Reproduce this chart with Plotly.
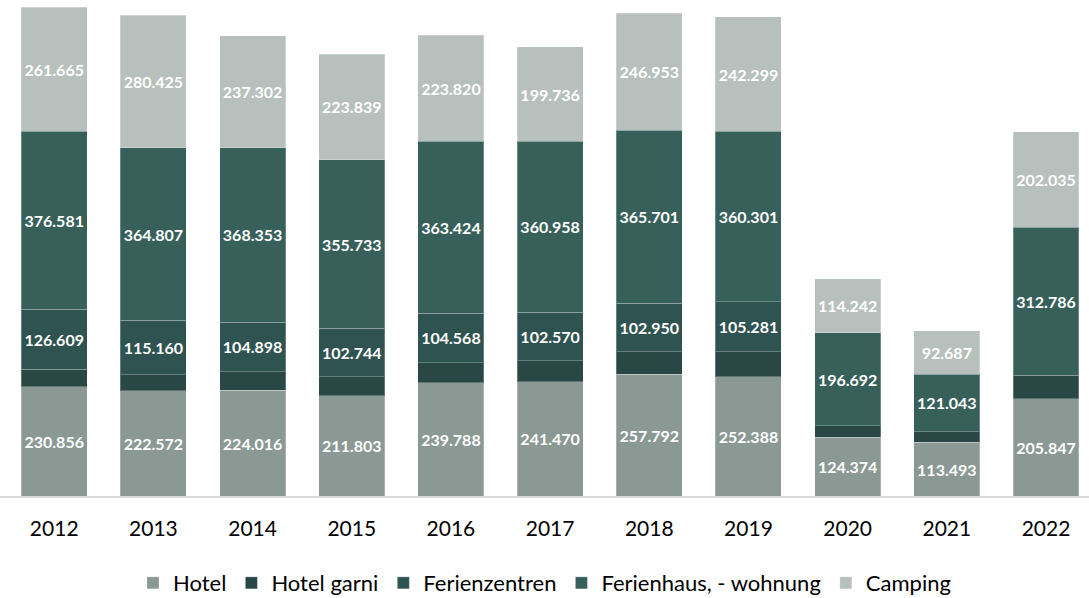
import plotly.graph_objects as go

years = ["2012", "2013", "2014", "2015", "2016", "2017", "2018", "2019", "2020", "2021", "2022"]
hotel = [230856, 222572, 224016, 211803, 239788, 241470, 257792, 252388, 124374, 113493, 205847]
hotel_garni = [37400, 33500, 38700, 40200, 42300, 44400, 47200, 52900, 23900, 22600, 49300]
ferienzentren = [126609, 115160, 104898, 102744, 104568, 102570, 102950, 105281, None, None, None]
ferienhaus = [376581, 364807, 368353, 355733, 363424, 360958, 365701, 360301, 196692, 121043, 312786]
camping = [261665, 280425, 237302, 223839, 223820, 199736, 246953, 242299, 114242, 92687, 202035]

series = [
    ("Hotel", hotel, "#8a9994", True),
    ("Hotel garni", hotel_garni, "#294745", False),
    ("Ferienzentren", ferienzentren, "#2f5350", True),
    ("Ferienhaus, - wohnung", ferienhaus, "#37605b", True),
    ("Camping", camping, "#b8c0bd", True),
]

FONT = "Lato"


def fmt(v):
    if v is None:
        return ""
    return f"{v:,}".replace(",", ".")


fig = go.Figure()
for name, vals, color, labeled in series:
    fig.add_trace(go.Bar(
        name=name,
        x=years,
        y=vals,
        marker=dict(color=color, line=dict(width=1, color="rgba(255,255,255,0.25)")),
        text=[fmt(v) for v in vals] if labeled else None,
        textposition="inside" if labeled else "none",
        insidetextanchor="middle",
        textangle=0,
        constraintext="none",
        textfont=dict(family=FONT, size=16, color="white", weight="bold"),
        hoverinfo="skip",
    ))

fig.update_layout(
    barmode="stack",
    bargap=0.335,
    width=1089,
    height=598,
    margin=dict(l=0, r=0, t=4, b=102, autoexpand=False),
    paper_bgcolor="white",
    plot_bgcolor="white",
    font=dict(family=FONT, color="black"),
    showlegend=True,
    legend=dict(
        orientation="h",
        x=0.5,
        xanchor="center",
        xref="container",
        yref="container",
        y=0.025,
        yanchor="middle",
        font=dict(family=FONT, size=22, color="black"),
        itemwidth=30,
        traceorder="normal",
    ),
    xaxis=dict(
        type="category",
        range=[-0.5465, 10.4335],
        showline=True,
        linecolor="#d9d9d9",
        linewidth=1.5,
        showgrid=False,
        ticks="outside",
        ticklen=13,
        tickcolor="rgba(0,0,0,0)",
        tickfont=dict(family=FONT, size=21, color="black"),
    ),
    yaxis=dict(
        range=[0, 1040000],
        visible=False,
        showgrid=False,
        zeroline=False,
    ),
)

fig.write_html(
    "out.html",
    config={"displayModeBar": False},
    post_script="document.body.style.margin='0';",
)
